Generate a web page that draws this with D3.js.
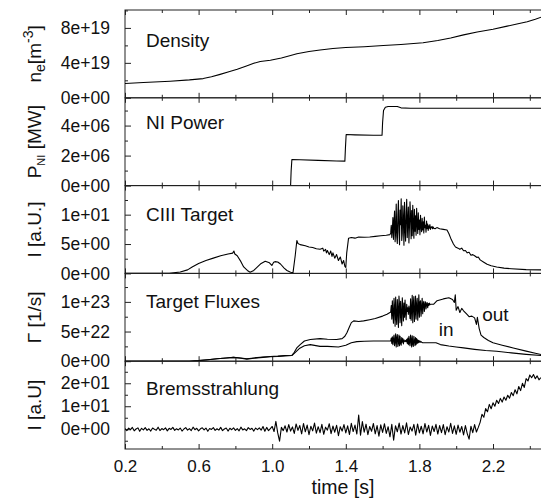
<!DOCTYPE html>
<html><head><meta charset="utf-8">
<script src="https://cdn.jsdelivr.net/npm/d3@7"></script>
<style>
body{margin:0;background:#fff}
text{font-family:"Liberation Sans",Arial,Helvetica,sans-serif;fill:#111}
</style>
</head><body>
<svg id="c" width="541" height="500"></svg>
<script>
// ---------------- DATA ----------------
const timeTicks = [0.2, 0.6, 1.0, 1.4, 1.8, 2.2];
const timeTickLabels = ["0.2", "0.6", "1.0", "1.4", "1.8", "2.2"];
const timeMinorTicks = [0.4, 0.8, 1.2, 1.6, 2.0, 2.4];

const panelTitles = ["Density", "NI Power", "CIII Target", "Target Fluxes", "Bremsstrahlung"];

// Density, units of 1e19 m^-3
const densityData = [[0.2,1.63],[0.3,1.75],[0.445,1.9],[0.55,2.05],[0.625,2.2],[0.67,2.4],[0.717,2.68],[0.76,2.95],[0.81,3.27],[0.86,3.65],[0.9,3.95],[0.935,4.16],[0.99,4.3],[1.05,4.55],[1.1,4.85],[1.134,5.05],[1.2,5.3],[1.26,5.48],[1.33,5.65],[1.4,5.75],[1.5,5.85],[1.604,5.98],[1.7,6.1],[1.82,6.3],[1.9,6.55],[1.97,6.85],[2.04,7.2],[2.114,7.54],[2.2,7.85],[2.277,8.2],[2.33,8.45],[2.386,8.71],[2.43,9.0],[2.465,9.25]];
const densityTicks = [0, 4, 8];
const densityTickLabels = ["0e+00", "4e+19", "8e+19"];
const densityMinor = [2, 6, 10];

// NI power, units of 1e6 W
const powerData = [[0.2,0],[1.1,0],[1.103,1.0],[1.107,1.74],[1.15,1.72],[1.25,1.68],[1.35,1.64],[1.395,1.63],[1.398,2.5],[1.402,3.4],[1.45,3.38],[1.55,3.35],[1.597,3.35],[1.6,4.2],[1.605,5.0],[1.615,5.22],[1.63,5.27],[1.68,5.27],[1.7,5.18],[1.75,5.15],[2.465,5.15]];
const powerTicks = [0, 2, 4];
const powerTickLabels = ["0e+00", "2e+06", "4e+06"];
const powerMinor = [1, 3, 5];

// CIII target intensity
const ciiiBefore = [[0.2,0],[0.44,0],[0.5,0.25],[0.54,0.6],[0.565,1.1],[0.6,1.7],[0.64,2.2],[0.68,2.6],[0.72,3.0],[0.76,3.3],[0.785,3.45],[0.792,3.8],[0.797,3.3],[0.81,3.0],[0.83,2.0],[0.845,1.1],[0.865,0.5],[0.88,0.2],[0.9,0.5],[0.92,1.1],[0.94,1.7],[0.962,2.07],[0.985,1.8],[0.998,1.35],[1.008,1.9],[1.015,2.0],[1.03,1.95],[1.045,1.6],[1.065,0.9],[1.08,0.5],[1.1,0.2],[1.113,0.1],[1.125,3.0],[1.134,5.6],[1.14,5.1],[1.152,4.9],[1.18,4.7],[1.2,4.5],[1.22,4.4],[1.24,4.2],[1.26,4.1],[1.275,4.3],[1.28,3.8],[1.29,4.1],[1.295,3.5],[1.3,3.9],[1.31,3.2],[1.318,3.8],[1.325,2.9],[1.33,3.5],[1.34,2.6],[1.35,3.2],[1.36,2.2],[1.37,2.8],[1.38,1.6],[1.388,2.2],[1.395,1.2],[1.4,1.0],[1.405,3.5],[1.415,6.0],[1.43,6.1],[1.45,6.0],[1.47,6.2],[1.5,6.15],[1.53,6.2],[1.56,6.3],[1.59,6.4],[1.62,6.5],[1.64,6.6]];
const burstStart = 1.644;
const burstStep = 0.003;
const ciiiBurst = [6.9,8.2,6.1,7.4,9.5,5.8,8.7,10.6,5.4,7.2,11.8,6.3,5.1,9.9,12.4,7.0,4.9,10.8,8.3,12.7,5.6,6.8,11.5,9.2,4.8,12.1,7.6,5.5,10.4,12.6,6.1,8.9,11.3,5.2,7.9,12.2,9.6,5.9,10.7,6.4,11.6,8.1,6.0,10.9,7.2,9.8,6.5,11.1,8.4,6.8,10.3,7.5,9.1,6.6,9.9,8.0,7.1,9.4,7.4,8.8,6.9,9.6,7.8,8.2,7.0,8.9,7.6,8.4,7.3,8.1,7.7,8.3,7.5,7.9,7.8,8.0,7.6,7.9,7.7];
const ciiiAfter = [[1.885,7.6],[1.895,7.8],[1.91,7.6],[1.93,7.5],[1.95,7.4],[1.96,6.8],[1.97,6.0],[1.985,5.0],[1.996,4.5],[2.01,4.3],[2.02,4.1],[2.03,4.3],[2.04,3.85],[2.05,3.9],[2.06,3.5],[2.07,3.6],[2.08,3.1],[2.09,3.2],[2.1,3.0],[2.113,2.7],[2.12,2.8],[2.13,2.3],[2.15,1.9],[2.168,1.55],[2.19,1.3],[2.22,1.1],[2.26,0.9],[2.3,0.8],[2.38,0.65],[2.465,0.6]];
const ciiiTicks = [0, 5, 10];
const ciiiTickLabels = ["0e+00", "5e+00", "1e+01"];
const ciiiMinor = [2.5, 7.5, 12.5];

// Target fluxes, units of 1e22 1/s
const fluxOutBefore = [[0.2,0],[0.55,0],[0.6,0.1],[0.65,0.25],[0.7,0.4],[0.75,0.55],[0.79,0.65],[0.83,0.55],[0.862,0.4],[0.9,0.55],[0.95,0.7],[0.99,0.8],[1.03,0.85],[1.07,0.95],[1.107,1.0],[1.12,1.5],[1.135,2.3],[1.152,2.8],[1.175,3.4],[1.207,3.66],[1.26,3.8],[1.3,3.7],[1.35,3.66],[1.38,3.8],[1.395,4.2],[1.406,4.8],[1.42,5.8],[1.43,6.5],[1.443,6.8],[1.47,6.7],[1.497,6.8],[1.53,7.0],[1.56,7.2],[1.6,7.6],[1.624,7.9],[1.64,8.2]];
const fluxOutBurst = [8.3,9.4,7.1,10.2,8.0,6.4,10.6,9.1,5.9,10.8,7.3,6.2,10.4,8.6,5.7,11.0,9.5,6.5,10.1,7.8,6.0,10.7,8.9,6.8,9.8,7.4,10.3,8.1,7.0,9.6,8.4,9.0,7.9,9.3,8.6,7.2,10.5,6.9,8.8,11.1,6.5,9.7,10.9,6.7,8.2,11.0,7.1,9.5,10.6,6.9,8.7,11.2,7.4,9.9,10.2,7.6,9.0,10.6,8.0,9.7,10.1,8.4,9.5,10.0,8.8,9.6,9.9,9.0,9.7,9.4,9.8,9.5,9.6];
const fluxOutAfter = [[1.878,9.6],[1.896,10.2],[1.93,10.5],[1.96,10.7],[1.98,10.4],[1.99,9.9],[1.995,11.2],[2.0,8.6],[2.01,9.2],[2.02,8.2],[2.03,8.9],[2.04,8.5],[2.055,8.0],[2.07,7.5],[2.085,7.6],[2.1,7.3],[2.11,6.2],[2.115,7.4],[2.125,5.5],[2.135,4.4],[2.15,4.0],[2.175,3.5],[2.2,3.1],[2.25,2.7],[2.31,2.24],[2.38,1.7],[2.43,1.35],[2.465,1.1]];
const fluxInBefore = [[0.2,0],[0.55,0],[0.6,0.1],[0.65,0.25],[0.7,0.4],[0.75,0.55],[0.79,0.65],[0.83,0.5],[0.862,0.35],[0.9,0.5],[0.95,0.65],[0.99,0.75],[1.03,0.8],[1.07,0.9],[1.107,0.95],[1.13,1.6],[1.15,2.2],[1.175,2.6],[1.207,2.8],[1.26,2.5],[1.3,2.5],[1.36,2.4],[1.4,2.7],[1.43,3.1],[1.46,3.3],[1.5,3.37],[1.55,3.4],[1.6,3.4],[1.64,3.4]];
const fluxInBurst = [3.4,3.9,3.0,4.1,2.8,3.7,4.4,2.6,3.3,4.6,2.4,3.9,4.5,2.5,3.1,4.4,2.6,4.2,3.0,2.7,4.0,3.2,3.8,2.9,3.6,3.4,3.3,3.5,3.3,3.7,3.0,3.9,2.8,4.2,3.1,2.6,4.4,3.6,2.4,4.3,2.9,2.5,4.2,3.4,2.6,4.0,2.8,3.8,3.0,3.6,3.1,3.5,3.2,3.4,3.2,3.3,3.2,3.15,3.1];
const fluxInAfter = [[1.89,3.1],[1.914,2.8],[1.96,2.55],[2.0,2.4],[2.04,2.24],[2.1,2.0],[2.16,1.8],[2.22,1.67],[2.3,1.4],[2.38,1.15],[2.465,0.94]];
const fluxTicks = [0, 5, 10];
const fluxTickLabels = ["0e+00", "5e+22", "1e+23"];
const fluxMinor = [2.5, 7.5, 12.5];
const fluxAnnotations = [["out", 2.141, 6.8], ["in", 1.905, 4.2]];

// Bremsstrahlung, sampled every 0.01 s from 0.2 s
const bremsStart = 0.2;
const bremsStep = 0.01;
const bremsValues = [
0.3,-0.6,0.5,-0.2,0.8,-0.7,0.1,0.6,-0.9,0.4,
-0.3,0.7,-0.5,0.2,-0.8,0.5,0.0,-0.4,0.9,-0.6,
0.3,-0.2,0.6,-0.7,0.4,-0.1,0.8,-0.5,0.2,-0.3,
0.5,-0.8,0.1,0.7,-0.4,0.3,-0.6,0.9,-0.2,0.4,
-0.7,0.2,0.6,-0.3,0.5,-0.9,0.3,-0.1,0.7,-0.5,
0.2,-0.4,0.8,-0.6,0.1,0.5,-0.8,0.4,-0.2,0.6,
-0.5,0.3,-0.7,0.9,-0.3,0.2,-0.6,0.7,-0.1,0.4,
-0.8,0.5,-0.2,0.6,-0.4,1.2,-0.9,0.8,-0.6,0.3,
1.2,-1.0,3.4,-1.6,-5.2,0.8,-0.6,1.5,-1.2,2.0,
-0.8,1.0,-1.8,2.3,-0.5,1.6,-2.0,2.5,-1.1,1.8,
-2.4,1.3,-0.7,2.7,-1.7,1.1,-1.5,2.1,-2.2,0.9,
-0.4,2.4,-1.9,1.4,-1.3,1.7,-2.8,1.1,-0.8,2.0,
-1.6,1.5,-2.3,2.6,-1.0,1.8,-2.1,6.2,-2.6,3.3,
-1.3,2.2,-2.4,1.2,-0.9,2.5,-2.0,1.6,-3.0,1.9,
-1.4,2.4,-1.8,1.1,-3.3,2.1,-4.8,1.5,-1.1,2.7,
-2.1,1.6,-1.6,2.8,-2.3,1.0,-0.8,2.1,-2.6,2.3,
-1.6,1.3,-2.0,2.5,-1.2,1.7,-2.7,1.4,-1.0,2.1,
-2.1,1.6,-1.5,2.0,-2.4,1.1,-1.2,2.6,-1.8,1.5,
-2.2,1.8,-1.3,1.2,-2.5,1.6,-1.9,-4.3,1.3,-1.5,
2.0,-1.2,0.8,
3.0,6.5,5.2,9.0,7.6,10.8,8.9,11.5,10.0,12.6,
11.2,13.4,11.8,14.0,12.6,14.8,13.5,16.0,14.6,17.2,
15.4,18.6,16.8,20.0,18.2,22.0,21.0,23.6,22.4,23.8,
22.0,23.2,21.5,22.5];
const bremsTicks = [0, 10, 20];
const bremsTickLabels = ["0e+00", "1e+01", "2e+01"];
const bremsMinor = [-5, 5, 15, 25];

// ---------------- LAYOUT ----------------
const svg = d3.select("#c");
const left = 125, pxPerSec = 184;
const top0 = 10, panelH = 87.8;
const x = d3.scaleLinear().domain([0.2, 2.5]).range([left, left + 2.3 * pxPerSec]);
const plotRight = x.range()[1];
const FONT = '"Liberation Sans", Arial, sans-serif';

const toPairs = (start, step, arr) => arr.map((v, i) => [start + i * step, v]);

const panels = [
  {title: panelTitles[0], domain: [0, 10.05], ticks: densityTicks, labels: densityTickLabels, minor: densityMinor,
   series: [densityData], titleDy: 36.5, ylab: "ne"},
  {title: panelTitles[1], domain: [0, 5.85], ticks: powerTicks, labels: powerTickLabels, minor: powerMinor,
   series: [powerData], titleDy: 31.5, ylab: "pni"},
  {title: panelTitles[2], domain: [0, 14.95], ticks: ciiiTicks, labels: ciiiTickLabels, minor: ciiiMinor,
   series: [ciiiBefore.concat(toPairs(burstStart, burstStep, ciiiBurst), ciiiAfter)], titleDy: 35, ylab: "I [a.U.]"},
  {title: panelTitles[3], domain: [0, 14.8], ticks: fluxTicks, labels: fluxTickLabels, minor: fluxMinor,
   series: [fluxOutBefore.concat(toPairs(burstStart, burstStep, fluxOutBurst), fluxOutAfter),
            fluxInBefore.concat(toPairs(burstStart, burstStep, fluxInBurst), fluxInAfter)], titleDy: 34.3, ylab: "Γ [1/s]"},
  {title: panelTitles[4], domain: [-8.6, 29.6], ticks: bremsTicks, labels: bremsTickLabels, minor: bremsMinor,
   series: [toPairs(bremsStart, bremsStep, bremsValues)], titleDy: 33.3, ylab: "I [a.U]"}
];

panels.forEach((p, i) => {
  const top = top0 + i * panelH, bottom = top + panelH;
  const y = d3.scaleLinear().domain(p.domain).range([bottom, top]);
  const g = svg.append("g");

  g.append("clipPath").attr("id", "clip" + i).append("rect")
    .attr("x", left).attr("y", top).attr("width", plotRight - left).attr("height", panelH);

  g.append("rect").attr("x", left).attr("y", top).attr("width", plotRight - left).attr("height", panelH)
    .attr("fill", "none").attr("stroke", "#222").attr("stroke-width", 1);

  const ya = g.append("g").attr("transform", `translate(${left},0)`)
    .call(d3.axisLeft(y).tickValues(p.ticks).tickFormat((d, k) => p.labels[k]).tickSizeInner(-6).tickSizeOuter(0).tickPadding(15));
  ya.select(".domain").remove();
  ya.selectAll("text").attr("font-size", 17.5).attr("fill", "#111").attr("font-family", FONT);
  ya.selectAll("line").attr("stroke", "#222");
  const ym = g.append("g").attr("transform", `translate(${left},0)`)
    .call(d3.axisLeft(y).tickValues(p.minor).tickFormat("").tickSizeInner(-3).tickSizeOuter(0));
  ym.select(".domain").remove();
  ym.selectAll("line").attr("stroke", "#222");

  [[top, d3.axisTop], [bottom, d3.axisBottom]].forEach(([yy, ax]) => {
    const a = g.append("g").attr("transform", `translate(0,${yy})`)
      .call(ax(x).tickValues(timeTicks).tickSizeInner(-5).tickSizeOuter(0).tickFormat(""));
    a.select(".domain").remove(); a.selectAll("line").attr("stroke", "#222");
    const m = g.append("g").attr("transform", `translate(0,${yy})`)
      .call(ax(x).tickValues(timeMinorTicks).tickSizeInner(-3).tickSizeOuter(0).tickFormat(""));
    m.select(".domain").remove(); m.selectAll("line").attr("stroke", "#222");
  });

  const line = d3.line().x(d => x(d[0])).y(d => y(d[1]));
  p.series.forEach(s => {
    g.append("path").datum(s).attr("d", line).attr("fill", "none")
      .attr("stroke", "#000").attr("stroke-width", 1.1).attr("stroke-linejoin", "round")
      .attr("clip-path", `url(#clip${i})`);
  });

  g.append("text").attr("x", left + 21).attr("y", top + p.titleDy).attr("font-size", 19).text(p.title);

  const cy = (top + bottom) / 2;
  const t = g.append("text").attr("transform", `translate(41,${cy}) rotate(-90)`)
    .attr("text-anchor", "middle").attr("font-size", 19);
  if (p.ylab === "ne") {
    t.append("tspan").text("n");
    t.append("tspan").attr("font-size", 14).attr("dy", 4).text("e");
    t.append("tspan").attr("dy", -4).text("[m");
    t.append("tspan").attr("font-size", 14).attr("dy", -8).text("-3");
    t.append("tspan").attr("dy", 8).text("]");
  } else if (p.ylab === "pni") {
    t.append("tspan").text("P");
    t.append("tspan").attr("font-size", 11).attr("dy", 4).text("NI");
    t.append("tspan").attr("dy", -4).text(" [MW]");
  } else {
    t.text(p.ylab);
  }

  if (i === 3) {
    fluxAnnotations.forEach(a => {
      g.append("text").attr("x", x(a[1])).attr("y", y(a[2])).attr("font-size", 19).text(a[0]);
    });
  }

  if (i === panels.length - 1) {
    const xa = g.append("g").attr("transform", `translate(0,${bottom})`)
      .call(d3.axisBottom(x).tickValues(timeTicks).tickFormat((d, k) => timeTickLabels[k]).tickSize(0).tickPadding(11));
    xa.select(".domain").remove();
    xa.selectAll("text").attr("font-size", 17).attr("fill", "#111").attr("font-family", FONT);
    svg.append("text").attr("x", 343).attr("y", 494).attr("text-anchor", "middle").attr("font-size", 19.5).text("time [s]");
  }
});
</script>
</body></html>
